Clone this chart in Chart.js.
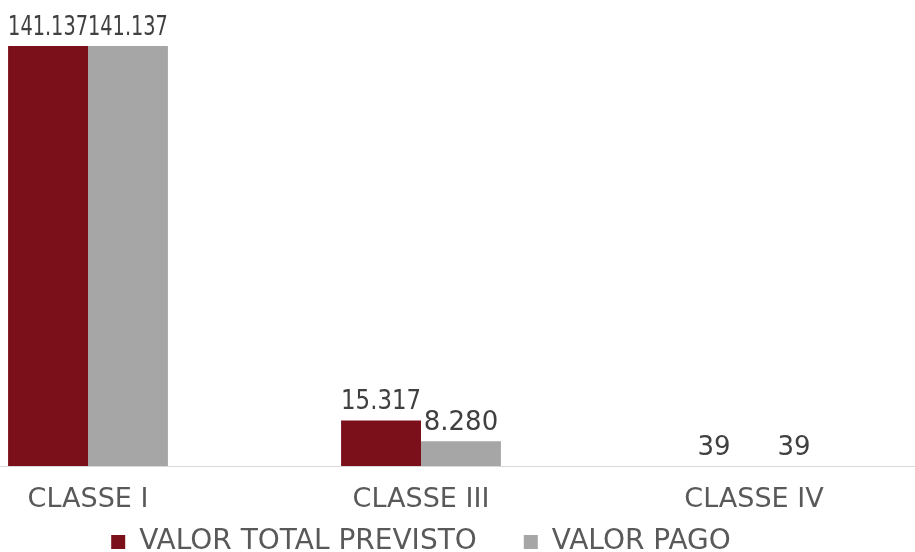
<!DOCTYPE html>
<html>
<head>
<meta charset="utf-8">
<script src="https://cdn.jsdelivr.net/npm/chart.js@4"></script>
<style>
  html, body { margin: 0; padding: 0; background: #fff; overflow: hidden; }
  #wrap { position: relative; width: 915px; height: 552px; overflow: hidden; }
  #box { position: absolute; left: -80px; top: 0; width: 1006px; height: 566px; }
</style>
</head>
<body>
<div id="wrap"><div id="box"><canvas id="grafico"></canvas></div></div>
<script>
// Dados do gráfico
const categorias = ["CLASSE I", "CLASSE III", "CLASSE IV"];
const valorTotalPrevisto = [141137, 15317, 39];
const valorPago = [141137, 8280, 39];

const fonte = "'DejaVu Sans', sans-serif";

// formata 141137 -> 141.137
function formatar(v) {
    return String(v).replace(/\B(?=(\d{3})+(?!\d))/g, ".");
}

// rótulos de valor em cima das barras
const rotulos = {
    id: "rotulos",
    afterLayout(chart) {
        // o eixo x fica baixo para a legenda encostar, mas os rótulos precisam de espaço
        const x = chart.scales.x;
        x.bottom = x.top + 60;
    },
    afterDatasetsDraw(chart) {
        const ctx = chart.ctx;
        ctx.save();
        ctx.font = "26px " + fonte;
        ctx.fillStyle = "#404040";
        ctx.textAlign = "center";
        ctx.textBaseline = "bottom";
        chart.data.datasets.forEach((ds, i) => {
            chart.getDatasetMeta(i).data.forEach((barra, j) => {
                ctx.fillText(formatar(ds.data[j]), barra.x, barra.y - 5, barra.width);
            });
        });
        ctx.restore();
    }
};

new Chart(document.getElementById("grafico"), {
    type: "bar",
    data: {
        labels: categorias,
        datasets: [
            {
                label: "VALOR TOTAL PREVISTO",
                data: valorTotalPrevisto,
                backgroundColor: "#7B0F1A",
                categoryPercentage: 0.48,
                barPercentage: 1
            },
            {
                label: "VALOR PAGO",
                data: valorPago,
                backgroundColor: "#A6A6A6",
                categoryPercentage: 0.48,
                barPercentage: 1
            }
        ]
    },
    options: {
        responsive: true,
        maintainAspectRatio: false,
        animation: false,
        layout: { padding: { top: 46, left: 1.5, right: 5.5, bottom: 0 } },
        plugins: {
            tooltip: { enabled: false },
            legend: {
                position: "bottom",
                labels: {
                    font: { family: fonte, size: 28 },
                    color: "#595959",
                    boxWidth: 14,
                    boxHeight: 14,
                    padding: 47
                }
            }
        },
        scales: {
            x: {
                grid: { display: false, drawTicks: false },
                border: { color: "#D9D9D9", width: 1 },
                ticks: {
                    font: { family: fonte, size: 27 },
                    color: "#595959",
                    padding: 18
                },
                afterFit(scale) {
                    scale.height = 15;
                }
            },
            y: {
                display: false,
                min: 0,
                max: 141137
            }
        }
    },
    plugins: [rotulos]
});
</script>
</body>
</html>
